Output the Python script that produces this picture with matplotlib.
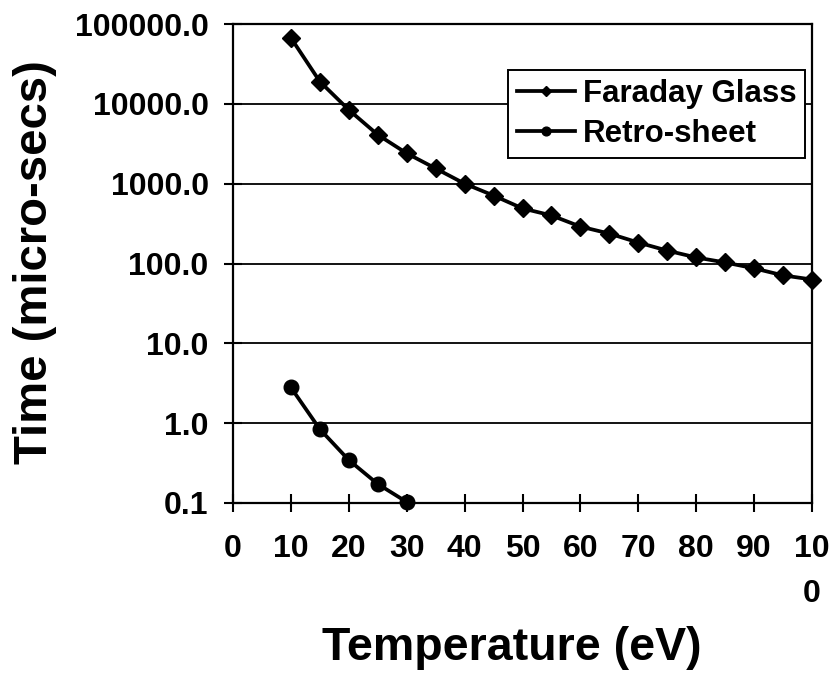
import matplotlib
matplotlib.use("Agg")
import matplotlib.pyplot as plt
from matplotlib.ticker import FixedLocator, FuncFormatter, NullLocator

plt.rcParams['font.family'] = ['Liberation Sans', 'DejaVu Sans']
plt.rcParams['font.weight'] = 'bold'

# Decay time versus plasma temperature
temp_faraday = [10, 15, 20, 25, 30, 35, 40, 45, 50, 55, 60, 65, 70, 75, 80, 85, 90, 95, 100]
time_faraday = [67000, 19000, 8400, 4100, 2400, 1550, 1000, 710, 490, 400,
                290, 237, 183, 145, 119, 103, 87, 71, 63]

temp_retro = [10, 15, 20, 25, 30]
time_retro = [2.8, 0.84, 0.345, 0.173, 0.103]

x_ticks = [0, 10, 20, 30, 40, 50, 60, 70, 80, 90, 100]
x_tick_labels = ["0", "10", "20", "30", "40", "50", "60", "70", "80", "90", "10\n0"]
y_ticks = [0.1, 1, 10, 100, 1000, 10000, 100000]

fig = plt.figure(figsize=(8.32, 6.76), dpi=100)
ax = fig.add_axes([233 / 832, 1 - 503 / 676, (812 - 233) / 832, (503 - 24) / 676])

ax.set_yscale('log')
ax.set_xlim(0, 100)
ax.set_ylim(0.1, 100000)

ax.plot(temp_faraday, time_faraday, color='black', lw=2.7, marker='D', ms=9,
        label='Faraday Glass', clip_on=False, zorder=5)
ax.plot(temp_retro, time_retro, color='black', lw=2.7, marker='o', ms=10.5,
        label='Retro-sheet', clip_on=False, zorder=5)

ax.yaxis.set_major_locator(FixedLocator(y_ticks))
ax.yaxis.set_minor_locator(NullLocator())
ax.yaxis.set_major_formatter(FuncFormatter(lambda v, p: f"{v:.1f}"))
ax.set_xticks(x_ticks)
ax.set_xticklabels(x_tick_labels, va='top', linespacing=1.65)

ax.grid(axis='y', color='black', lw=1.3)
ax.set_axisbelow(True)
for s in ax.spines.values():
    s.set_linewidth(1.6)
    s.set_color('black')

ax.tick_params(axis='both', which='major', direction='inout', length=13, width=1.5,
               labelsize=23, colors='black')
ax.tick_params(axis='y', pad=11)
ax.tick_params(axis='x', pad=16)

ax.set_xlabel('Temperature (eV)', fontsize=33.5, fontweight='bold')
ax.xaxis.set_label_coords((512 - 233) / 579, (503 - 648) / 479)
ax.xaxis.label.set_va('center')
ax.set_ylabel('Time (micro-secs)', fontsize=34, fontweight='bold')
ax.yaxis.set_label_coords((35 - 233) / 579, (503 - 262) / 479)
ax.yaxis.label.set_va('center')

leg = ax.legend(loc='upper right', bbox_to_anchor=(805 / 832, 1 - 70 / 676),
                bbox_transform=fig.transFigure, fontsize=22.5, frameon=True,
                fancybox=False, framealpha=1, edgecolor='black', borderaxespad=0,
                handlelength=1.85, handletextpad=0.25, borderpad=0.28,
                labelspacing=0.33, markerscale=0.6)
leg.get_frame().set_linewidth(1.4)

fig.savefig('out.png', dpi=100)
